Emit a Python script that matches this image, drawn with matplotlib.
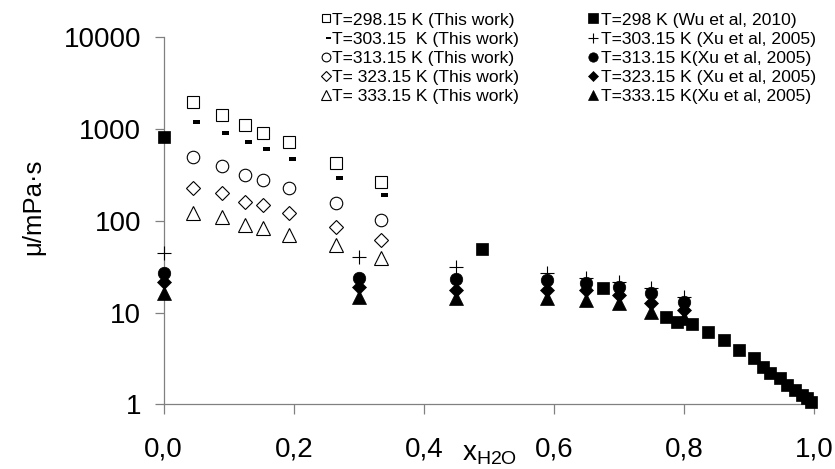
import matplotlib
matplotlib.use("Agg")
import matplotlib.pyplot as plt
from matplotlib.path import Path
from matplotlib.ticker import FixedLocator, FixedFormatter, NullLocator

plt.rcParams['font.family'] = ['Liberation Sans', 'DejaVu Sans']
plt.rcParams['mathtext.fontset'] = 'custom'
plt.rcParams['mathtext.rm'] = 'Liberation Sans'
plt.rcParams['mathtext.it'] = 'Liberation Sans'

# ---- data: this work ----
x_tw = [0.045, 0.09, 0.125, 0.152, 0.192, 0.265, 0.334]
mu_29815 = [1986, 1422, 1107, 912, 717, 430, 267]
mu_30315 = [1203, 912, 717, 606, 475, 295, 191]
mu_31315 = [492, 399, 316, 278, 226, 155, 102]
mu_32315 = [226, 199, 162, 149, 121, 86, 61]
mu_33315 = [121, 109, 90, 83, 70, 54.5, 39]

# ---- data: Wu et al, 2010 (298 K) ----
x_wu = [0.0, 0.489, 0.675, 0.772, 0.789, 0.812, 0.837, 0.862, 0.885, 0.908,
        0.921, 0.933, 0.947, 0.959, 0.971, 0.981, 0.989, 0.996]
mu_wu = [813, 48.9, 18.4, 8.9, 7.95, 7.45, 6.18, 5.02, 3.9, 3.17,
         2.57, 2.21, 1.92, 1.62, 1.43, 1.26, 1.16, 1.07]

# ---- data: Xu et al, 2005 ----
x_xu = [0.0, 0.3, 0.45, 0.59, 0.65, 0.7, 0.75, 0.8]
mu_xu_30315 = [45, 40.6, 31.6, 26.8, 23.6, 21.7, 18.4, 14.9]
mu_xu_31315 = [26.8, 23.6, 23.0, 22.6, 20.8, 19.1, 16.2, 13.1]
mu_xu_32315 = [21.7, 19.1, 17.6, 17.6, 17.6, 15.5, 12.6, 10.7]
mu_xu_33315 = [16.2, 14.9, 14.3, 14.3, 13.7, 12.6, 10.2, 8.7]

labels_tw = ["T=298.15 K (This work)", "T=303.15  K (This work)",
             "T=313.15 K (This work)", "T= 323.15 K (This work)",
             "T= 333.15 K (This work)"]
labels_lit = ["T=298 K (Wu et al, 2010)", "T=303.15 K (Xu et al, 2005)",
              "T=313.15 K(Xu et al, 2005)", "T=323.15 K (Xu et al, 2005)",
              "T=333.15 K(Xu et al, 2005)"]

xticks = [0.0, 0.2, 0.4, 0.6, 0.8, 1.0]
xticklabels = ["0,0", "0,2", "0,4", "0,6", "0,8", "1,0"]
yticks = [1, 10, 100, 1000, 10000]
yticklabels = ["1", "10", "100", "1000", "10000"]

# dash marker (short bar, drawn slightly right of the point)
dash = Path([(0, -0.22), (1, -0.22), (1, 0.22), (0, 0.22), (0, -0.22)],
            [Path.MOVETO, Path.LINETO, Path.LINETO, Path.LINETO, Path.CLOSEPOLY])

fig = plt.figure(figsize=(8.35, 4.69), dpi=100)
ax = fig.add_axes([163.7 / 835, 64.7 / 469, 650.3 / 835, 367.0 / 469])

common = dict(linestyle='none', clip_on=False, zorder=3)
ew = 0.8
h_tw = []
h_tw.append(ax.plot(x_tw, mu_29815, marker='s', ms=9, mfc='none', mec='black', mew=ew, **common)[0])
h_tw.append(ax.plot(x_tw, mu_30315, marker=dash, ms=10.7, mfc='black', mec='black', mew=0, **common)[0])
h_tw.append(ax.plot(x_tw, mu_31315, marker='o', ms=9, mfc='none', mec='black', mew=ew, **common)[0])
h_tw.append(ax.plot(x_tw, mu_32315, marker='D', ms=7, mfc='none', mec='black', mew=ew, **common)[0])
h_tw.append(ax.plot(x_tw, mu_33315, marker='^', ms=10, mfc='none', mec='black', mew=ew, **common)[0])

h_lit = []
h_lit.append(ax.plot(x_wu, mu_wu, marker='s', ms=9, mfc='black', mec='black', mew=0.5, **common)[0])
h_lit.append(ax.plot(x_xu, mu_xu_30315, marker='+', ms=10, mec='black', mew=0.8, **common)[0])
h_lit.append(ax.plot(x_xu, mu_xu_31315, marker='o', ms=9, mfc='black', mec='black', mew=0.5, **common)[0])
h_lit.append(ax.plot(x_xu, mu_xu_32315, marker='D', ms=7, mfc='black', mec='black', mew=0.5, **common)[0])
h_lit.append(ax.plot(x_xu, mu_xu_33315, marker='^', ms=10, mfc='black', mec='black', mew=0.5, **common)[0])

ax.set_yscale('log')
ax.set_xlim(0, 1)
ax.set_ylim(1, 10000)
ax.xaxis.set_major_locator(FixedLocator(xticks))
ax.xaxis.set_major_formatter(FixedFormatter(xticklabels))
ax.yaxis.set_major_locator(FixedLocator(yticks))
ax.yaxis.set_major_formatter(FixedFormatter(yticklabels))
ax.yaxis.set_minor_locator(NullLocator())
ax.xaxis.set_minor_locator(NullLocator())

for s in ['top', 'right']:
    ax.spines[s].set_visible(False)
for s in ['left', 'bottom']:
    ax.spines[s].set_color('#808080')
    ax.spines[s].set_linewidth(0.9)

ax.tick_params(axis='y', direction='out', length=6.3, width=0.9, color='#808080',
               labelsize=20, pad=10, labelcolor='black')
ax.tick_params(axis='x', direction='out', length=7, width=0.9, color='#808080',
               labelsize=20, pad=16, labelcolor='black')

fig.text(462 / 835, 9 / 469, r'x$_{\mathrm{H2O}}$', fontsize=20, ha='left', va='baseline')
fig.text(33 / 835, 1 - 206.5 / 469, 'μ/mPa·s', fontsize=18.5, rotation=90,
         ha='center', va='center')

leg_top = 1 - 12.3 / 469
leg1 = ax.legend(h_tw, labels_tw, loc='upper left', bbox_to_anchor=(322 / 835, leg_top),
                 bbox_transform=fig.transFigure, frameon=False, fontsize=12.6,
                 handlelength=0.5, handletextpad=0.05, borderpad=0, borderaxespad=0,
                 labelspacing=0.22, markerscale=0.7)
ax.add_artist(leg1)
leg2 = ax.legend(h_lit, labels_lit, loc='upper left', bbox_to_anchor=(588.3 / 835, leg_top),
                 bbox_transform=fig.transFigure, frameon=False, fontsize=12.6,
                 handlelength=0.5, handletextpad=0.2, borderpad=0, borderaxespad=0,
                 labelspacing=0.22, markerscale=0.75)

fig.savefig('out.png', dpi=100)
